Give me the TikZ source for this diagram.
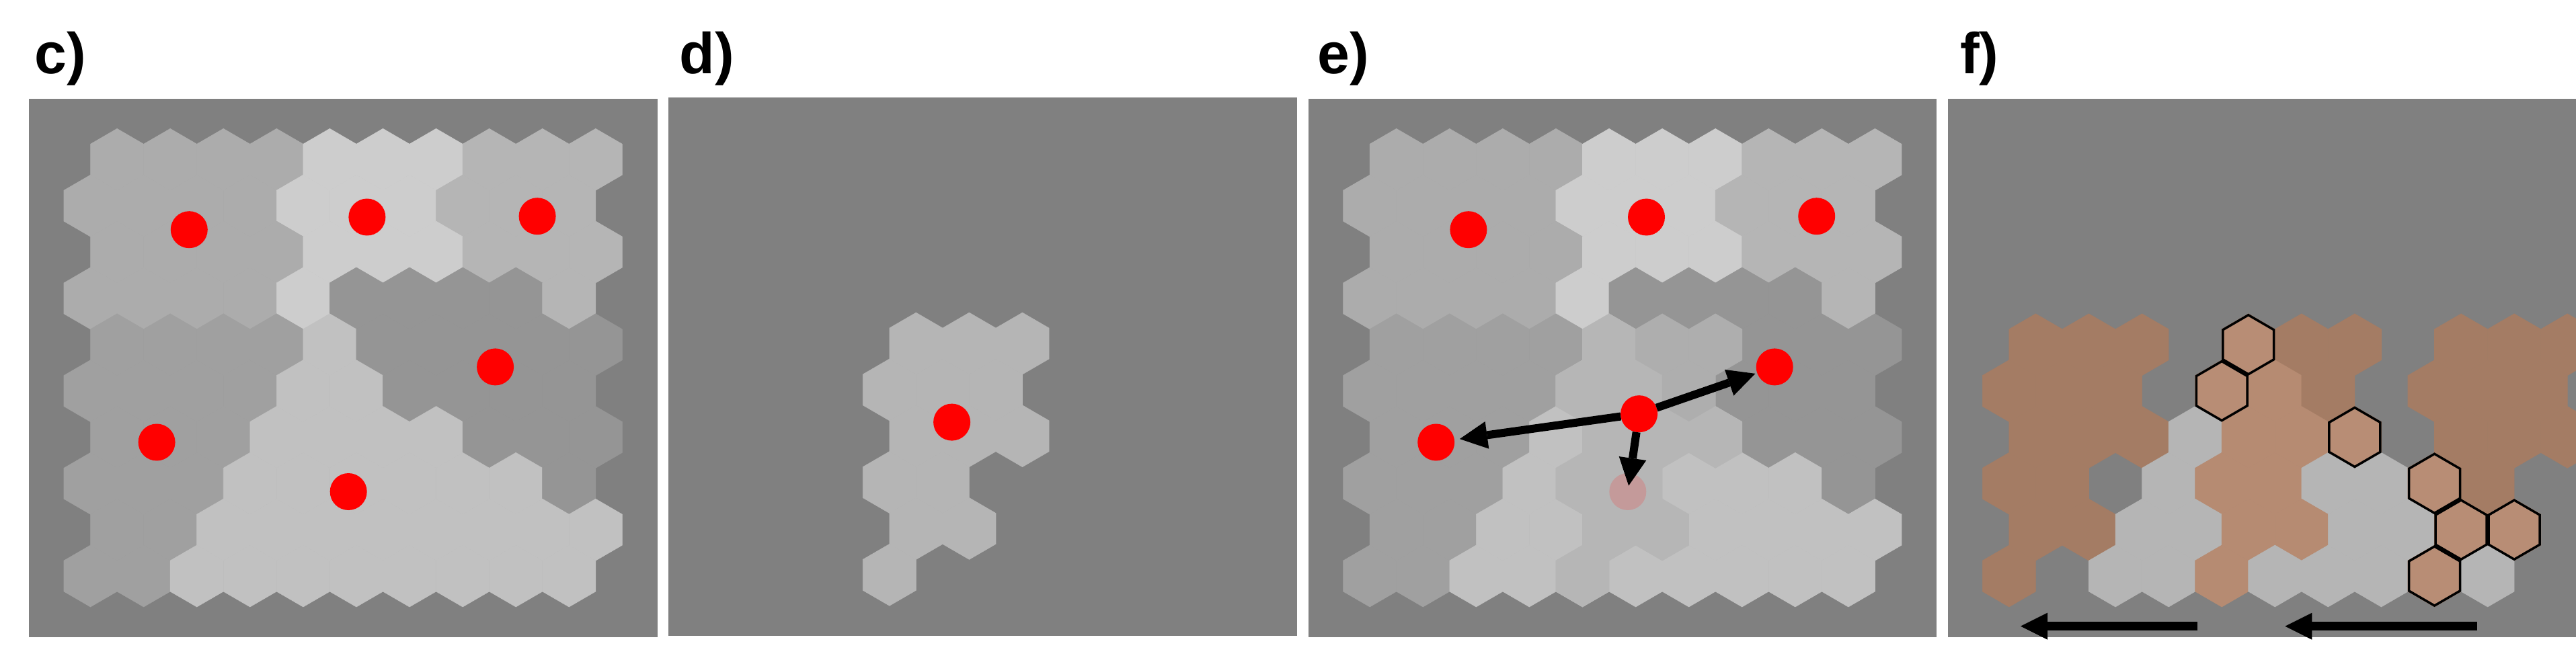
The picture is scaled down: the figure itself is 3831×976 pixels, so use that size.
\documentclass[tikz,border=0pt]{standalone}
\usepackage{fontspec}
\setmainfont{Liberation Sans}
\usetikzlibrary{arrows.meta, positioning}

\definecolor{bgGray}{HTML}{808080}
\definecolor{regA}{HTML}{ACACAC}
\definecolor{regB}{HTML}{CDCDCD}
\definecolor{regC}{HTML}{B5B5B5}
\definecolor{regD}{HTML}{959595}
\definecolor{regE}{HTML}{A0A0A0}
\definecolor{regF}{HTML}{C1C1C1}
\definecolor{regG}{HTML}{B5B5B5}
\definecolor{regK}{HTML}{A47C64}
\definecolor{regL}{HTML}{B68B72}
\definecolor{regO}{HTML}{B88D75}
\definecolor{regP}{HTML}{AEAEAE}
\definecolor{regQ}{HTML}{B6B6B6}
\definecolor{oldRed}{HTML}{C49A9A}

% one hexagon, centred at (#1,#2)
\newcommand{\hexat}[3]{\path[shift={(#1,#2)}, #3] (0,-45.9) -- (39.54,-22.95) -- (39.54,22.95) -- (0,45.9) -- (-39.54,22.95) -- (-39.54,-22.95) -- cycle;}
% centre of cell (row #1, column #2) inside a panel
\newcommand{\cellxy}[2]{\pgfmathsetmacro{\hx}{130.8+79.08*#2-39.54*mod(#1,2)}\pgfmathsetmacro{\hy}{90.6+68.86*#1}}
% a whole map, one list of letters per row, N = empty
\newcommand{\hexmap}[1]{%
  \foreach \rowcols [count=\r from 0] in #1 {%
    \foreach \reg [count=\c from 0] in \rowcols {%
      \if\reg N\else
        \cellxy{\r}{\c}%
        \hexat{\hx}{\hy}{cell=reg\reg}%
      \fi
    }}}
\newcommand{\somrows}{%
  {A,A,A,A,B,B,B,C,C,C},{A,A,A,A,B,B,B,C,C,C},{A,A,A,A,B,B,B,C,C,C},%
  {A,A,A,A,B,D,D,D,D,C},{E,E,E,E,F,D,D,D,D,D},{E,E,E,E,F,F,D,D,D,D},%
  {E,E,E,F,F,F,F,D,D,D},{E,E,E,F,F,F,F,F,F,D},{E,E,F,F,F,F,F,F,F,F},%
  {E,E,F,F,F,F,F,F,F,F}}

\begin{document}
\begin{tikzpicture}[
    x=1pt, y=-1pt,
    panel/.style={fill=bgGray},
    cell/.style={fill=#1, draw=#1, line width=0.6pt},
    bmuCell/.style={fill=regO, draw=black, line width=3.5pt, scale=0.96},
    dot/.style={circle, fill=red, minimum size=55pt, inner sep=0pt, outer sep=0pt},
    oldDot/.style={dot, fill=oldRed},
    moveArrow/.style={-{Triangle[length=41pt, width=41pt, line width=0pt]}, line width=12pt},
    shiftArrow/.style={-{Triangle[length=40pt, width=40pt, line width=0pt]}, line width=13pt},
    panelLabel/.style={anchor=base west, inner sep=0pt, font=\fontsize{86}{100}\selectfont\bfseries}
]

    \fill[white] (0,0) rectangle (3831,976);
    \useasboundingbox (0,0) rectangle (3831,976);

    \node[panelLabel] (labelC) at (51.5,110) {c)};
    \node[panelLabel] (labelD) at (1010.6,110) {d)};
    \node[panelLabel] (labelE) at (1959,110) {e)};
    \node[panelLabel] (labelF) at (2915,110) {f)};

    % c) clusters
    \begin{scope}[shift={(43.3,146.7)}]
        \fill[panel] (0,0) rectangle (935,801.6);
        \hexmap{\somrows}
        \node[dot] (cDotA) at (238,195) {};
        \node[dot] (cDotB) at (502.6,176.3) {};
        \node[dot] (cDotC) at (755.8,175) {};
        \node[dot] (cDotD) at (693.3,399.2) {};
        \node[dot] (cDotE) at (189.8,511.3) {};
        \node[dot] (cDotF) at (474.9,584.8) {};
    \end{scope}

    % d) new cluster
    \begin{scope}[shift={(994.3,145)}]
        \fill[panel] (0,0) rectangle (934.7,801);
        \hexmap{{{N},{N},{N},{N},{N,N,N,G,G,G},{N,N,N,G,G,G},{N,N,N,G,G,G},{N,N,N,G,G},{N,N,N,G,G},{N,N,N,G}}}
        \node[dot] (dDot) at (421.3,483.1) {};
    \end{scope}

    % e) merging
    \begin{scope}[shift={(1945.9,146.7)}]
        \fill[panel] (0,0) rectangle (934.3,801.6);
        \hexmap{\somrows}
        \hexmap{{{N},{N},{N},{N},{N,N,N,N,Q,P,P},{N,N,N,N,Q,Q,P},{N,N,N,N,Q,Q,Q},{N,N,N,N,Q,Q},{N,N,N,N,Q,Q},{N,N,N,N,Q}}}
        \node[dot] (eDotA) at (238,195) {};
        \node[dot] (eDotB) at (502.6,176.3) {};
        \node[dot] (eDotC) at (755.8,175) {};
        \node[dot] (eDotD) at (693.3,399.2) {};
        \node[dot] (eDotE) at (189.8,511.3) {};
        \node[oldDot] (eOld) at (474.9,584.8) {};
        \node[dot] (eNew) at (491.7,469) {};
        \draw[moveArrow, shorten >=3pt] (eNew) -- (eDotD);
        \draw[moveArrow, shorten >=8pt] (eNew) -- (eDotE);
        \draw[moveArrow, shorten >=9pt] (eNew) -- (eOld.center);
    \end{scope}

    % f) shifted map
    \begin{scope}[shift={(2896.6,146.7)}]
        \fill[panel] (0,0) rectangle (934.4,801.6);
        \begin{scope}
            \clip (0,0) rectangle (934.4,801.6);
            \hexmap{{{N},{N},{N},{N},{K,K,K,N,O,K,K,N,K,K,K},{K,K,K,N,O,L,K,N,K,K,K},{K,K,K,G,L,L,O,N,K,K,K},{K,K,N,G,L,L,G,G,O,K},{K,K,G,G,L,L,G,G,O,O},{K,N,G,G,L,G,G,G,O,G}}}
            \foreach \r/\c in {4/4,5/4,6/6,7/8,8/8,8/9,9/8}{%
                \cellxy{\r}{\c}\hexat{\hx}{\hy}{bmuCell}}
        \end{scope}
        \coordinate (fTail1) at (371.7,785);
        \coordinate (fHead1) at (108.4,785);
        \coordinate (fTail2) at (787.4,785);
        \coordinate (fHead2) at (501.7,785);
        \draw[shiftArrow] (fTail1) -- (fHead1);
        \draw[shiftArrow] (fTail2) -- (fHead2);
    \end{scope}

\end{tikzpicture}
\end{document}
